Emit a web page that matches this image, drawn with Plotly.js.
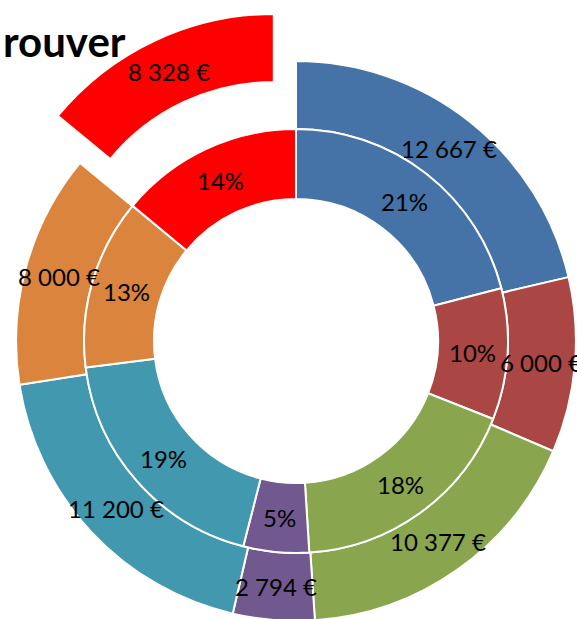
<!DOCTYPE html>
<html>
<head>
<meta charset="utf-8">
<script src="https://cdn.plot.ly/plotly-3.0.1.min.js"></script>
<style>
  html, body { margin: 0; padding: 0; width: 577px; height: 619px; overflow: hidden; background: #ffffff; }
  #chart { position: absolute; left: -36px; top: 9px; width: 664px; height: 664px; }
</style>
</head>
<body>
<div id="chart"></div>
<script>
// ---- data ----
const categories = ["Poste 1", "Poste 2", "Poste 3", "Poste 4", "Poste 5", "Poste 6", "Poste 7"];
const amounts = [12667, 6000, 10377, 2794, 11200, 8000, 8328];   // outer ring (€)
const shares = [21, 10, 18, 5, 19, 13, 14];                       // inner ring (%)
const colors = ["#4572A7", "#AA4643", "#89A54E", "#71588F", "#4198AF", "#DB843D", "#FF0000"];
const titleText = "rouver";

// ---- geometry / style ----
const SIZE = 664;
const pulls = amounts.map((v, i) => (i === amounts.length - 1 ? 0.186 : 0));
const maxPull = Math.max.apply(null, pulls);
const R_OUT = SIZE / (2 + 2 * maxPull);
const HOLE_OUT = 0.757;
const R_IN = 212;
const HOLE_IN = 0.67;
const inHalf = R_IN / SIZE;

function fmtEuro(v) {
  return String(v).replace(/\B(?=(\d{3})+(?!\d))/g, " ") + " €";
}
function midAngles(arr) {
  const tot = arr.reduce((a, b) => a + b, 0);
  let cum = 0;
  return arr.map(v => { const m = (cum + v / 2) / tot * 360; cum += v; return m; });
}

const outerTrace = {
  type: "pie",
  labels: categories,
  values: amounts,
  sort: false,
  direction: "clockwise",
  rotation: 0,
  hole: HOLE_OUT,
  pull: pulls,
  textinfo: "none",
  hoverinfo: "label+value",
  marker: { colors: colors, line: { color: "#ffffff", width: 2 } },
  domain: { x: [0, 1], y: [0, 1] }
};
const innerTrace = {
  type: "pie",
  labels: categories,
  values: shares,
  sort: false,
  direction: "clockwise",
  rotation: 0,
  hole: HOLE_IN,
  textinfo: "none",
  hoverinfo: "label+percent",
  marker: { colors: colors, line: { color: "#ffffff", width: 2 } },
  domain: { x: [0.5 - inHalf, 0.5 + inHalf], y: [0.5 - inHalf, 0.5 + inHalf] }
};

const annotations = [];
const labelFont = { family: "Lato, 'Open Sans', sans-serif", size: 24, color: "#000000" };
const outerMid = midAngles(amounts);
amounts.forEach((v, i) => {
  const rho = R_OUT * (1 + HOLE_OUT) / 2 + pulls[i] * R_OUT;
  const a = outerMid[i] * Math.PI / 180;
  annotations.push({
    xref: "paper", yref: "paper",
    x: 0.5 + rho * Math.sin(a) / SIZE,
    y: 0.5 + rho * Math.cos(a) / SIZE,
    text: fmtEuro(v), showarrow: false, font: labelFont,
    xanchor: "center", yanchor: "middle"
  });
});
const innerMid = midAngles(shares);
shares.forEach((v, i) => {
  const rho = R_IN * (1 + HOLE_IN) / 2;
  const a = innerMid[i] * Math.PI / 180;
  annotations.push({
    xref: "paper", yref: "paper",
    x: 0.5 + rho * Math.sin(a) / SIZE,
    y: 0.5 + rho * Math.cos(a) / SIZE,
    text: v + "%", showarrow: false, font: labelFont,
    xanchor: "center", yanchor: "middle"
  });
});
annotations.push({
  xref: "paper", yref: "paper",
  x: (128 + 36) / SIZE, y: 1 - (41 - 9) / SIZE,
  xanchor: "right", yanchor: "middle",
  text: "<b>" + titleText + "</b>", showarrow: false,
  font: { family: "Lato, 'Open Sans', sans-serif", size: 42, color: "#000000" }
});

const layout = {
  width: SIZE, height: SIZE,
  margin: { l: 0, r: 0, t: 0, b: 0 },
  showlegend: false,
  paper_bgcolor: "rgba(0,0,0,0)",
  plot_bgcolor: "rgba(0,0,0,0)",
  annotations: annotations
};

Plotly.newPlot("chart", [outerTrace, innerTrace], layout, { displayModeBar: false, staticPlot: true });
</script>
</body>
</html>
